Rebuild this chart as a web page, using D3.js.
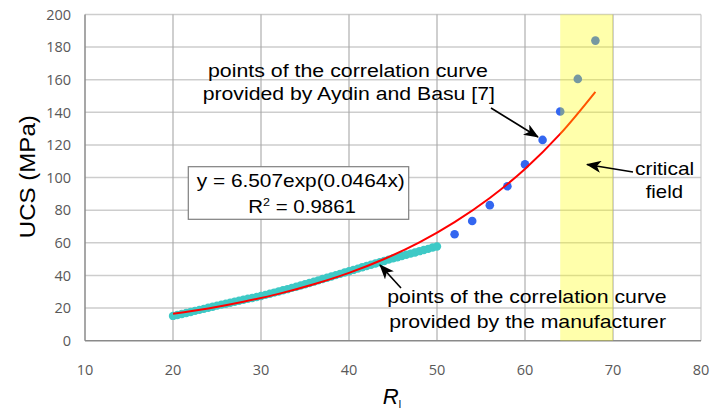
<!DOCTYPE html>
<html>
<head>
<meta charset="utf-8">
<script src="https://cdn.jsdelivr.net/npm/d3@7"></script>
<style>
  body { margin: 0; background: #fff; }
  svg { display: block; font-family: "Liberation Sans", Arial, sans-serif; }
</style>
</head>
<body>
<div id="chart"></div>
<script>
var width = 710;
var height = 409;

// manufacturer correlation curve points (R, UCS)
var manufR = d3.range(20, 50.01, 0.5);
var manufUCS = [15.2, 15.8, 16.4, 17.0, 17.6, 18.3, 18.9, 19.5, 20.2, 20.8,
                21.5, 22.1, 22.7, 23.3, 23.9, 24.5, 25.1, 25.7, 26.2, 26.8,
                27.4, 28.1, 28.8, 29.5, 30.2, 30.9, 31.6, 32.4, 33.1, 33.8,
                34.6, 35.4, 36.2, 37.0, 37.8, 38.6, 39.4, 40.2, 41.0, 41.8,
                42.6, 43.4, 44.2, 45.0, 45.8, 46.6, 47.3, 48.1, 48.9, 49.7,
                50.5, 51.2, 51.9, 52.7, 53.4, 54.1, 54.9, 55.6, 56.3, 57.1, 57.8];

// Aydin and Basu [7] points
var aydinR = [52, 54, 56, 58, 60, 62, 64, 66, 68];
var aydinUCS = [65.3, 73.4, 83.1, 94.7, 108.1, 123.1, 140.5, 160.5, 184];

// exponential trendline
var trendR = [20, 24, 28, 32, 36, 40, 44, 48, 52, 56, 60, 64, 68];
var trendUCS = [16.5, 19.8, 23.9, 28.7, 34.6, 41.6, 50.1, 60.3, 72.7, 87.5, 105.3, 126.8, 152.6];

// critical field band
var criticalField = [64, 70];

var xTicks = [10, 20, 30, 40, 50, 60, 70, 80];
var yTicks = [0, 20, 40, 60, 80, 100, 120, 140, 160, 180, 200];

var x = d3.scaleLinear().domain([10, 80]).range([85, 701]);
var y = d3.scaleLinear().domain([0, 200]).range([340.7, 14.5]);

var svg = d3.select("#chart").append("svg")
    .attr("width", width)
    .attr("height", height);

var defs = svg.append("defs");
defs.append("marker")
    .attr("id", "head")
    .attr("markerUnits", "userSpaceOnUse")
    .attr("markerWidth", 16).attr("markerHeight", 12)
    .attr("refX", 14).attr("refY", 6)
    .attr("orient", "auto")
  .append("path")
    .attr("d", "M0,0 L15,6 L0,12 L4,6 Z")
    .attr("fill", "#000");

// grid
svg.append("g").selectAll("line.h")
    .data(yTicks.slice(1))
    .enter().append("line")
    .attr("x1", x(10)).attr("x2", x(80))
    .attr("y1", function(d) { return y(d); })
    .attr("y2", function(d) { return y(d); })
    .attr("stroke", "#cdcdcd")
    .attr("stroke-width", 1.5);

svg.append("g").selectAll("line.v")
    .data(xTicks.slice(1))
    .enter().append("line")
    .attr("x1", function(d) { return x(d); })
    .attr("x2", function(d) { return x(d); })
    .attr("y1", y(0)).attr("y2", y(200))
    .attr("stroke", function(d) { return d == 80 ? "#c4c4c4" : "#a8a8a8"; })
    .attr("stroke-width", 1.1);

// axes lines (left, bottom)
svg.append("line")
    .attr("x1", x(10)).attr("x2", x(10))
    .attr("y1", y(0)).attr("y2", y(200))
    .attr("stroke", "#8a8a8a").attr("stroke-width", 1.5);
svg.append("line")
    .attr("x1", x(10)).attr("x2", x(80))
    .attr("y1", y(0)).attr("y2", y(0))
    .attr("stroke", "#8a8a8a").attr("stroke-width", 1.5);

// tick labels
svg.append("g").selectAll("text")
    .data(yTicks)
    .enter().append("text")
    .attr("x", 71)
    .attr("y", function(d) { return y(d); })
    .attr("dy", "0.36em")
    .attr("text-anchor", "end")
    .attr("font-family", "'Open Sans', sans-serif")
    .attr("font-size", 14.5)
    .attr("fill", "#595959")
    .text(function(d) { return d; });

svg.append("g").selectAll("text")
    .data(xTicks)
    .enter().append("text")
    .attr("x", function(d) { return x(d); })
    .attr("y", 375)
    .attr("text-anchor", "middle")
    .attr("font-family", "'Open Sans', sans-serif")
    .attr("font-size", 14.5)
    .attr("fill", "#595959")
    .text(function(d) { return d; });

// manufacturer points
svg.append("g").selectAll("circle")
    .data(manufR.map(function(r, i) { return [r, manufUCS[i]]; }))
    .enter().append("circle")
    .attr("cx", function(d) { return x(d[0]); })
    .attr("cy", function(d) { return y(d[1]); })
    .attr("r", 4.2)
    .attr("fill", "#3ec9c6");

// Aydin and Basu points
svg.append("g").selectAll("circle")
    .data(aydinR.map(function(r, i) { return [r, aydinUCS[i]]; }))
    .enter().append("circle")
    .attr("cx", function(d) { return x(d[0]); })
    .attr("cy", function(d) { return y(d[1]); })
    .attr("r", 4.3)
    .attr("fill", "#3366f0");

// trendline
var line = d3.line()
    .x(function(d) { return x(d[0]); })
    .y(function(d) { return y(d[1]); })
    .curve(d3.curveCatmullRom);
svg.append("path")
    .datum(trendR.map(function(r, i) { return [r, trendUCS[i]]; }))
    .attr("d", line)
    .attr("fill", "none")
    .attr("stroke", "#ff0000")
    .attr("stroke-width", 2);

// critical field (translucent, on top of marks)
svg.append("rect")
    .attr("x", x(criticalField[0]))
    .attr("y", y(200))
    .attr("width", x(criticalField[1]) - x(criticalField[0]))
    .attr("height", y(0) - y(200))
    .attr("fill", "#ffff00")
    .attr("fill-opacity", 0.33);

// stretch a text so it spans x0..x1
var fit = function(sel, x0, x1) {
  var w = sel.node().getBBox().width;
  var k = (x1 - x0) / w;
  sel.attr("transform", "translate(" + x0 + ",0) scale(" + k + ",1) translate(" + (-x0) + ",0)");
};

var label = function(txt, x0, x1, base, size) {
  var t = svg.append("text")
      .attr("x", x0).attr("y", base)
      .attr("font-size", size)
      .attr("fill", "#000")
      .text(txt);
  fit(t, x0, x1);
  return t;
};

// annotations
label("points of the correlation curve", 208, 488, 76.7, 18);
label("provided by Aydin and Basu [7]", 202.7, 495, 100, 18);
label("points of the correlation curve", 387.3, 666.7, 303.3, 18);
label("provided by the manufacturer", 389.3, 666, 327.7, 18);
label("critical", 635, 694.3, 175, 18);
label("field", 645.7, 683, 198, 18);

// equation box
svg.append("rect")
    .attr("x", 188.3).attr("y", 166.7)
    .attr("width", 408.7 - 188.3).attr("height", 219.3 - 166.7)
    .attr("fill", "#fff")
    .attr("stroke", "#7f7f7f")
    .attr("stroke-width", 1.2);
label("y = 6.507exp(0.0464x)", 196.7, 405, 186.7, 18);
var r2 = svg.append("text")
    .attr("x", 248.3).attr("y", 213.3)
    .attr("font-size", 18);
r2.append("tspan").text("R");
r2.append("tspan").attr("font-size", 11).attr("dy", -7).text("2");
r2.append("tspan").attr("dy", 7).text(" = 0.9861");
fit(r2, 248.3, 356);

// arrows
var arrows = [
  [491, 108, 538, 137],
  [633, 172, 587, 164.5],
  [401, 288, 380, 265]
];
svg.append("g").selectAll("line")
    .data(arrows)
    .enter().append("line")
    .attr("x1", function(d) { return d[0]; })
    .attr("y1", function(d) { return d[1]; })
    .attr("x2", function(d) { return d[2]; })
    .attr("y2", function(d) { return d[3]; })
    .attr("stroke", "#000")
    .attr("stroke-width", 1.6)
    .attr("marker-end", "url(#head)");

// axis titles
var yt = svg.append("text")
    .attr("transform", "translate(35,176.7) rotate(-90)")
    .attr("text-anchor", "middle")
    .attr("font-size", 22)
    .attr("fill", "#000")
    .text("UCS (MPa)");
var yw = yt.node().getBBox().width;
yt.attr("transform", "translate(35,176.7) rotate(-90) scale(" + (123 / yw) + ",1)");

var xt = svg.append("text")
    .attr("x", 382.7).attr("y", 404)
    .attr("font-size", 22)
    .attr("font-style", "italic")
    .attr("fill", "#000");
xt.append("tspan").text("R");
xt.append("tspan").attr("font-size", 10).attr("font-style", "normal").attr("dy", 4).text("I");
</script>
</body>
</html>
